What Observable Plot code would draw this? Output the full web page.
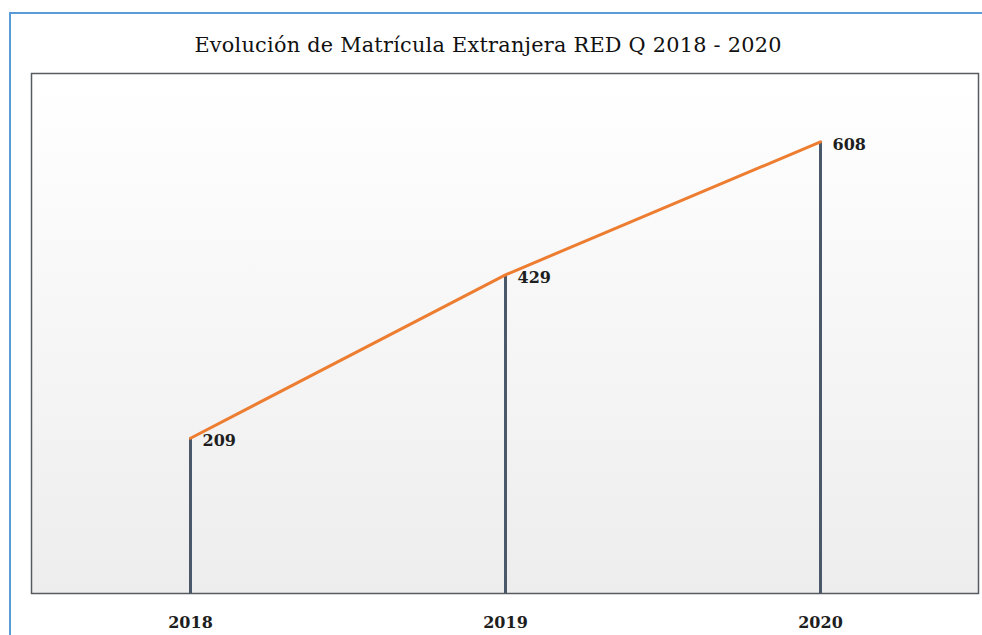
<!DOCTYPE html>
<html>
<head>
<meta charset="utf-8">
<script src="https://cdn.jsdelivr.net/npm/d3@7"></script>
<script src="https://cdn.jsdelivr.net/npm/@observablehq/plot@0.6"></script>
<style>
  html, body { margin: 0; padding: 0; background: #ffffff; }
  #wrap { position: relative; width: 982px; height: 635px; overflow: hidden; }
  #border { position: absolute; left: 9px; top: 12px; width: 1200px; height: 1000px;
            border-left: 2px solid #5b9bd5; border-top: 2px solid #5b9bd5; box-sizing: border-box; }
  #title { position: absolute; left: 0; top: 33px; width: 976px; text-align: center;
           font-family: 'DejaVu Serif', serif; font-size: 20.8px; color: #111111; letter-spacing: 0.25px; }
  #chart { position: absolute; left: 0; top: 73px; }
</style>
</head>
<body>
<div id="wrap">
  <div id="border"></div>
  <div id="title">Evolución de Matrícula Extranjera RED Q 2018 - 2020</div>
  <div id="chart"></div>
</div>
<script>
const years = ["2018", "2019", "2020"];
const values = [209, 429, 608];

const data = years.map((y, i) => ({year: y, value: values[i]}));

const defs = () => {
  const d = d3.create("svg:defs");
  const g = d.append("linearGradient").attr("id", "bgGrad")
    .attr("x1", 0).attr("y1", 0).attr("x2", 0).attr("y2", 1);
  g.append("stop").attr("offset", "0%").attr("stop-color", "#ffffff");
  g.append("stop").attr("offset", "100%").attr("stop-color", "#ededed");
  return d.node();
};

const chart = Plot.plot({
  width: 982,
  height: 562,
  marginLeft: 31,
  marginRight: 4,
  marginTop: 0,
  marginBottom: 42,
  style: {fontFamily: "'DejaVu Serif', serif", fontSize: "16px", color: "#1e1e1e", background: "transparent", overflow: "visible"},
  x: {type: "point", domain: years, padding: 0.5, tickSize: 0, tickPadding: 23, label: null},
  y: {domain: [0, 700], axis: null},
  marks: [
    defs,
    Plot.frame({fill: "url(#bgGrad)", stroke: "none"}),
    Plot.ruleX(data, {x: "year", y1: 0, y2: "value", stroke: "#4a586b", strokeWidth: 3}),
    Plot.line(data, {x: "year", y: "value", stroke: "#ed7d31", strokeWidth: 3}),
    Plot.text(data, {x: "year", y: "value", text: d => String(d.value), textAnchor: "start", dx: 12, dy: 3,
      fontSize: 16, fontWeight: "bold", fill: "#1e1e1e"}),
    Plot.frame({stroke: "#555b61", strokeWidth: 1.5})
  ]
});
chart.querySelectorAll("g[aria-label='x-axis tick label'] text, g[aria-label='x-axis'] text").forEach(t => t.setAttribute("font-weight", "bold"));
document.getElementById("chart").appendChild(chart);
</script>
</body>
</html>
